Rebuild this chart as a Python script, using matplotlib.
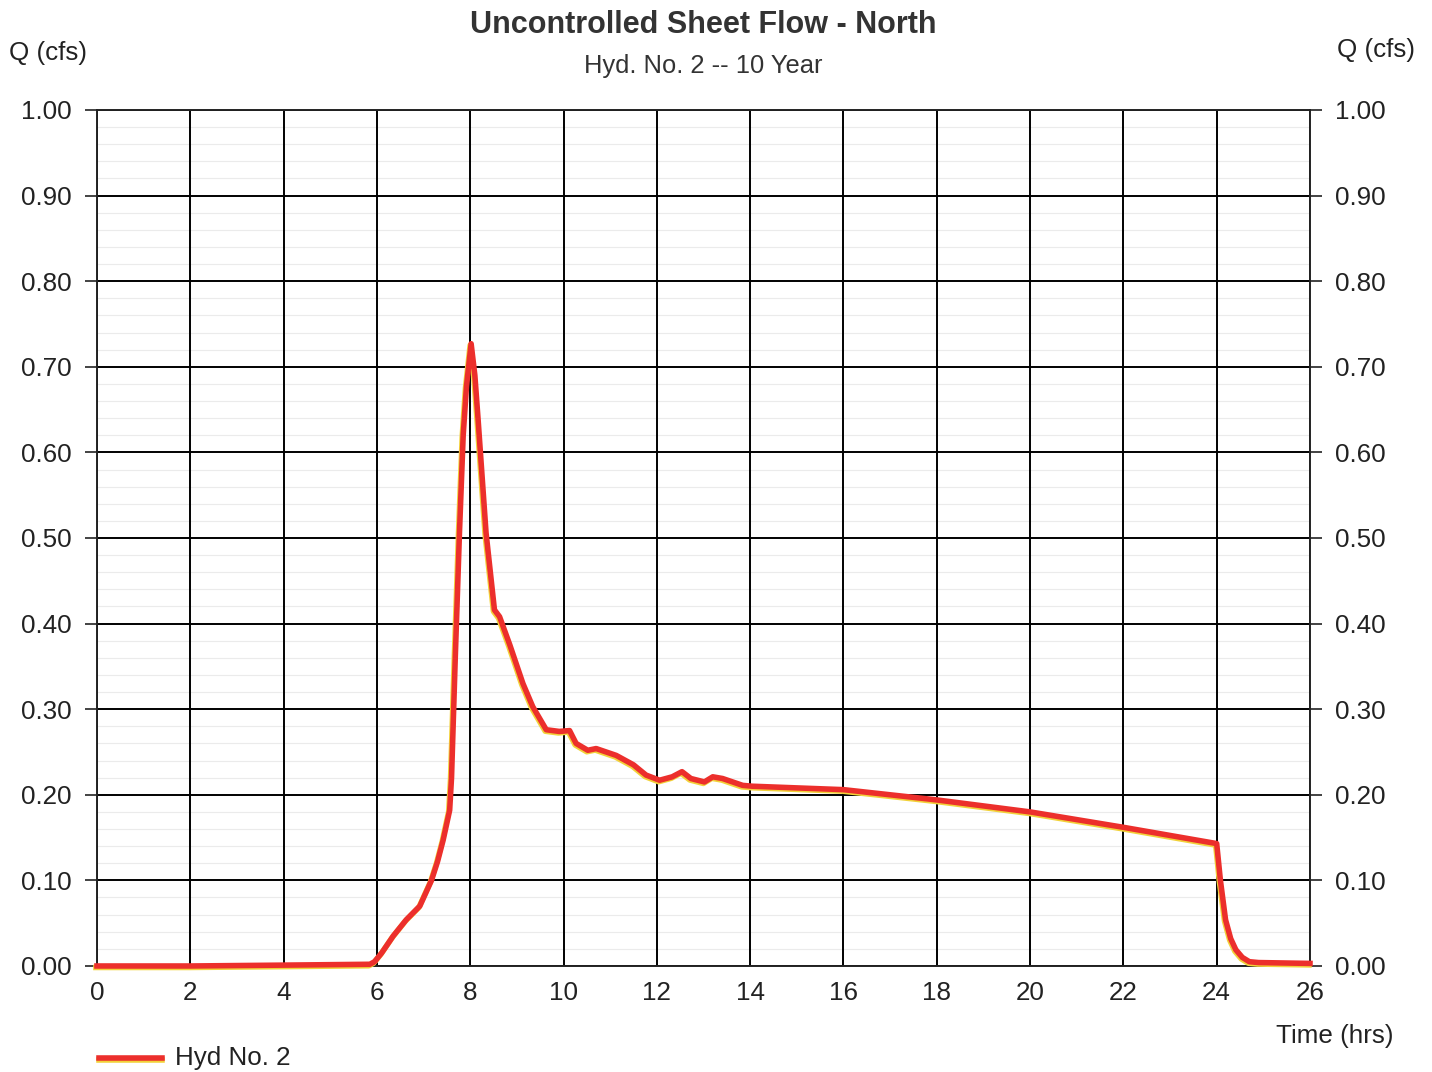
import matplotlib

matplotlib.use("Agg")
import matplotlib.pyplot as plt
import matplotlib.transforms as mtransforms
import numpy as np
from matplotlib.lines import Line2D

plt.rcParams["font.family"] = ["Liberation Sans", "DejaVu Sans"]

# Hydrograph ordinates, Hyd. No. 2, 10 year storm
time_hrs = [
    0.0, 2.0, 4.0, 5.85, 5.95, 6.1, 6.35, 6.63, 6.92, 7.17, 7.3, 7.42, 7.56,
    7.6, 7.68, 7.77, 7.85, 7.92, 8.02, 8.1, 8.17, 8.34, 8.52, 8.63, 8.85,
    9.13, 9.34, 9.63, 9.91, 10.13, 10.27, 10.52, 10.7, 11.13, 11.5, 11.77,
    12.06, 12.33, 12.54, 12.73, 13.02, 13.2, 13.41, 13.84, 14.05, 16.0,
    18.0, 20.0, 22.0, 24.0, 24.08, 24.19, 24.3, 24.41, 24.55, 24.7, 24.9, 26.0,
]
flow_cfs = [
    0.0, 0.0, 0.001, 0.002, 0.005, 0.015, 0.035, 0.054, 0.07, 0.10, 0.122, 0.147, 0.182,
    0.22, 0.36, 0.506, 0.62, 0.677, 0.727, 0.69, 0.638, 0.506, 0.416, 0.408, 0.375,
    0.330, 0.303, 0.276, 0.274, 0.275, 0.260, 0.252, 0.254, 0.246, 0.235, 0.223,
    0.217, 0.221, 0.227, 0.219, 0.215, 0.221, 0.219, 0.211, 0.210, 0.206,
    0.194, 0.180, 0.162, 0.143, 0.10, 0.054, 0.032, 0.019, 0.010, 0.005, 0.004, 0.003,
]

x_ticks = list(range(0, 27, 2))
y_ticks = [i / 10 for i in range(11)]
FS = 18.7
INK = "#222222"

fig = plt.figure(figsize=(14.32, 10.72), dpi=100)
ax = fig.add_axes([0.0677, 0.0989, 0.8471, 0.7985])

ax.set_xlim(0, 26)
ax.set_ylim(0, 1.0)
ax.set_xticks(x_ticks)
ax.set_yticks(y_ticks)
ax.set_yticklabels([f"{v:.2f}" for v in y_ticks])

# light sub-divisions every 0.02 cfs, kept under the black grid
for level in np.arange(0.02, 1.0, 0.02):
    if round(level * 50) % 5:
        ax.axhline(level, color="#ebebeb", linewidth=0.8, zorder=0.5)

ax.set_axisbelow("line")
ax.grid(which="major", color="black", linewidth=1.4)
for side in ax.spines.values():
    side.set_color(INK)
    side.set_linewidth(1.4)

ax.tick_params(axis="y", left=True, right=True, labelleft=True, labelright=True,
               length=8.6, width=1.2, pad=9.5, labelsize=FS, colors=INK)
ax.tick_params(axis="x", length=0, pad=11, labelsize=FS, colors=INK)

# faint yellow fringe under the red trace
fringe = mtransforms.offset_copy(ax.transData, fig=fig, x=-1, y=-1.5, units="dots")
ax.plot(time_hrs, flow_cfs, color="#f2d23a", linewidth=4.0, transform=fringe,
        clip_on=False, solid_joinstyle="round", zorder=3)
ax.plot(time_hrs, flow_cfs, color="#ec2f2c", linewidth=4.0, clip_on=False,
        solid_joinstyle="round", zorder=4)

fig.text(0.491, 0.977, "Uncontrolled Sheet Flow - North", ha="center", va="center",
         fontsize=22, fontweight="bold", color="#333333")
fig.text(0.491, 0.938, "Hyd. No. 2 -- 10 Year", ha="center", va="center",
         fontsize=18.4, color="#333333")
fig.text(0.006, 0.951, "Q (cfs)", ha="left", va="center", fontsize=FS, color=INK)
fig.text(0.934, 0.953, "Q (cfs)", ha="left", va="center", fontsize=FS, color=INK)
fig.text(0.973, 0.034, "Time (hrs)", ha="right", va="center", fontsize=FS, color=INK)

# legend entry below the plot
fig.add_artist(Line2D([0.069, 0.113], [0.0115, 0.0115], transform=fig.transFigure,
                      color="#f2d23a", linewidth=4.0))
fig.add_artist(Line2D([0.069, 0.113], [0.013, 0.013], transform=fig.transFigure,
                      color="#ec2f2c", linewidth=4.0))
fig.text(0.122, 0.013, "Hyd No. 2", ha="left", va="center", fontsize=FS, color=INK)

fig.savefig("out.png", dpi=100)
